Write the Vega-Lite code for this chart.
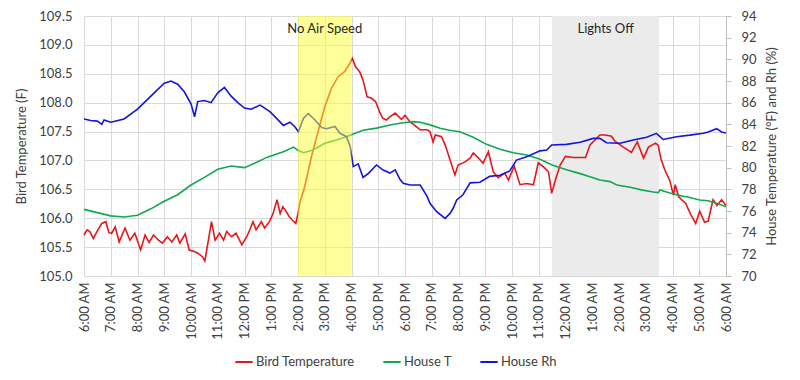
{
  "$schema": "https://vega.github.io/schema/vega-lite/v6.json",
  "width": 642,
  "height": 260,
  "autosize": {"type": "none"},
  "padding": {"left": 84, "top": 16, "right": 74, "bottom": 104},
  "background": "white",
  "config": {
    "font": "Lato",
    "view": {"stroke": null},
    "axis": {"labelFont": "Lato", "titleFont": "Lato", "labelColor": "#404040", "titleColor": "#404040", "labelFontSize": 13, "titleFontSize": 13, "titleFontWeight": "normal", "gridColor": "#d9d9d9", "domainColor": "#bfbfbf", "tickColor": "#bfbfbf"},
    "legend": {"labelFont": "Lato", "labelFontSize": 13, "labelColor": "#404040"}
  },
  "datasets": {
    "bands": [
      {"a": "2024-01-01T14:00:00", "b": "2024-01-01T16:00:00", "k": "No Air Speed"},
      {"a": "2024-01-01T23:30:00", "b": "2024-01-02T03:30:00", "k": "Lights Off"}
    ],
    "notes": [
      {"t": "2024-01-01T15:00:00", "v": 109.28, "label": "No Air Speed"},
      {"t": "2024-01-02T01:30:00", "v": 109.28, "label": "Lights Off"}
    ],
    "bird": [
      {"t": "2024-01-01T06:00:00", "s": "Bird Temperature", "v": 105.71},
      {"t": "2024-01-01T06:07:00", "s": "Bird Temperature", "v": 105.8},
      {"t": "2024-01-01T06:13:00", "s": "Bird Temperature", "v": 105.77},
      {"t": "2024-01-01T06:21:00", "s": "Bird Temperature", "v": 105.65},
      {"t": "2024-01-01T06:30:00", "s": "Bird Temperature", "v": 105.78},
      {"t": "2024-01-01T06:40:00", "s": "Bird Temperature", "v": 105.91},
      {"t": "2024-01-01T06:49:00", "s": "Bird Temperature", "v": 105.94},
      {"t": "2024-01-01T06:56:00", "s": "Bird Temperature", "v": 105.75},
      {"t": "2024-01-01T07:02:00", "s": "Bird Temperature", "v": 105.74},
      {"t": "2024-01-01T07:10:00", "s": "Bird Temperature", "v": 105.85},
      {"t": "2024-01-01T07:19:00", "s": "Bird Temperature", "v": 105.59},
      {"t": "2024-01-01T07:32:00", "s": "Bird Temperature", "v": 105.83},
      {"t": "2024-01-01T07:43:00", "s": "Bird Temperature", "v": 105.62},
      {"t": "2024-01-01T07:54:00", "s": "Bird Temperature", "v": 105.74},
      {"t": "2024-01-01T08:07:00", "s": "Bird Temperature", "v": 105.45},
      {"t": "2024-01-01T08:17:00", "s": "Bird Temperature", "v": 105.71},
      {"t": "2024-01-01T08:26:00", "s": "Bird Temperature", "v": 105.58},
      {"t": "2024-01-01T08:36:00", "s": "Bird Temperature", "v": 105.71},
      {"t": "2024-01-01T08:47:00", "s": "Bird Temperature", "v": 105.62},
      {"t": "2024-01-01T08:56:00", "s": "Bird Temperature", "v": 105.57},
      {"t": "2024-01-01T09:07:00", "s": "Bird Temperature", "v": 105.68},
      {"t": "2024-01-01T09:17:00", "s": "Bird Temperature", "v": 105.59},
      {"t": "2024-01-01T09:28:00", "s": "Bird Temperature", "v": 105.71},
      {"t": "2024-01-01T09:35:00", "s": "Bird Temperature", "v": 105.57},
      {"t": "2024-01-01T09:47:00", "s": "Bird Temperature", "v": 105.73},
      {"t": "2024-01-01T09:56:00", "s": "Bird Temperature", "v": 105.45},
      {"t": "2024-01-01T10:09:00", "s": "Bird Temperature", "v": 105.42},
      {"t": "2024-01-01T10:16:00", "s": "Bird Temperature", "v": 105.39},
      {"t": "2024-01-01T10:26:00", "s": "Bird Temperature", "v": 105.33},
      {"t": "2024-01-01T10:31:00", "s": "Bird Temperature", "v": 105.26},
      {"t": "2024-01-01T10:39:00", "s": "Bird Temperature", "v": 105.62},
      {"t": "2024-01-01T10:46:00", "s": "Bird Temperature", "v": 105.94},
      {"t": "2024-01-01T10:54:00", "s": "Bird Temperature", "v": 105.62},
      {"t": "2024-01-01T11:04:00", "s": "Bird Temperature", "v": 105.74},
      {"t": "2024-01-01T11:13:00", "s": "Bird Temperature", "v": 105.62},
      {"t": "2024-01-01T11:20:00", "s": "Bird Temperature", "v": 105.77},
      {"t": "2024-01-01T11:31:00", "s": "Bird Temperature", "v": 105.68},
      {"t": "2024-01-01T11:41:00", "s": "Bird Temperature", "v": 105.74},
      {"t": "2024-01-01T11:54:00", "s": "Bird Temperature", "v": 105.54},
      {"t": "2024-01-01T12:05:00", "s": "Bird Temperature", "v": 105.68},
      {"t": "2024-01-01T12:12:00", "s": "Bird Temperature", "v": 105.8},
      {"t": "2024-01-01T12:19:00", "s": "Bird Temperature", "v": 105.94},
      {"t": "2024-01-01T12:26:00", "s": "Bird Temperature", "v": 105.8},
      {"t": "2024-01-01T12:38:00", "s": "Bird Temperature", "v": 105.94},
      {"t": "2024-01-01T12:45:00", "s": "Bird Temperature", "v": 105.83},
      {"t": "2024-01-01T12:56:00", "s": "Bird Temperature", "v": 105.94},
      {"t": "2024-01-01T13:04:00", "s": "Bird Temperature", "v": 106.08},
      {"t": "2024-01-01T13:13:00", "s": "Bird Temperature", "v": 106.32},
      {"t": "2024-01-01T13:20:00", "s": "Bird Temperature", "v": 106.08},
      {"t": "2024-01-01T13:26:00", "s": "Bird Temperature", "v": 106.2},
      {"t": "2024-01-01T13:34:00", "s": "Bird Temperature", "v": 106.11},
      {"t": "2024-01-01T13:40:00", "s": "Bird Temperature", "v": 106.03},
      {"t": "2024-01-01T13:47:00", "s": "Bird Temperature", "v": 105.97},
      {"t": "2024-01-01T13:55:00", "s": "Bird Temperature", "v": 105.91},
      {"t": "2024-01-01T14:00:00", "s": "Bird Temperature", "v": 106.08},
      {"t": "2024-01-01T14:04:00", "s": "Bird Temperature", "v": 106.26},
      {"t": "2024-01-01T14:15:00", "s": "Bird Temperature", "v": 106.55},
      {"t": "2024-01-01T14:30:00", "s": "Bird Temperature", "v": 107.06},
      {"t": "2024-01-01T14:45:00", "s": "Bird Temperature", "v": 107.5},
      {"t": "2024-01-01T15:00:00", "s": "Bird Temperature", "v": 107.93},
      {"t": "2024-01-01T15:15:00", "s": "Bird Temperature", "v": 108.25},
      {"t": "2024-01-01T15:30:00", "s": "Bird Temperature", "v": 108.45},
      {"t": "2024-01-01T15:45:00", "s": "Bird Temperature", "v": 108.54},
      {"t": "2024-01-01T15:56:00", "s": "Bird Temperature", "v": 108.68},
      {"t": "2024-01-01T16:02:00", "s": "Bird Temperature", "v": 108.77},
      {"t": "2024-01-01T16:09:00", "s": "Bird Temperature", "v": 108.62},
      {"t": "2024-01-01T16:18:00", "s": "Bird Temperature", "v": 108.54},
      {"t": "2024-01-01T16:26:00", "s": "Bird Temperature", "v": 108.39},
      {"t": "2024-01-01T16:35:00", "s": "Bird Temperature", "v": 108.1},
      {"t": "2024-01-01T16:44:00", "s": "Bird Temperature", "v": 108.08},
      {"t": "2024-01-01T16:54:00", "s": "Bird Temperature", "v": 108.02},
      {"t": "2024-01-01T17:03:00", "s": "Bird Temperature", "v": 107.84},
      {"t": "2024-01-01T17:10:00", "s": "Bird Temperature", "v": 107.73},
      {"t": "2024-01-01T17:18:00", "s": "Bird Temperature", "v": 107.7},
      {"t": "2024-01-01T17:25:00", "s": "Bird Temperature", "v": 107.75},
      {"t": "2024-01-01T17:38:00", "s": "Bird Temperature", "v": 107.82},
      {"t": "2024-01-01T17:52:00", "s": "Bird Temperature", "v": 107.71},
      {"t": "2024-01-01T18:00:00", "s": "Bird Temperature", "v": 107.78},
      {"t": "2024-01-01T18:11:00", "s": "Bird Temperature", "v": 107.67},
      {"t": "2024-01-01T18:26:00", "s": "Bird Temperature", "v": 107.58},
      {"t": "2024-01-01T18:34:00", "s": "Bird Temperature", "v": 107.53},
      {"t": "2024-01-01T18:49:00", "s": "Bird Temperature", "v": 107.53},
      {"t": "2024-01-01T18:56:00", "s": "Bird Temperature", "v": 107.5},
      {"t": "2024-01-01T19:03:00", "s": "Bird Temperature", "v": 107.32},
      {"t": "2024-01-01T19:08:00", "s": "Bird Temperature", "v": 107.44},
      {"t": "2024-01-01T19:22:00", "s": "Bird Temperature", "v": 107.41},
      {"t": "2024-01-01T19:30:00", "s": "Bird Temperature", "v": 107.27},
      {"t": "2024-01-01T19:41:00", "s": "Bird Temperature", "v": 107.01},
      {"t": "2024-01-01T19:52:00", "s": "Bird Temperature", "v": 106.75},
      {"t": "2024-01-01T19:59:00", "s": "Bird Temperature", "v": 106.92},
      {"t": "2024-01-01T20:14:00", "s": "Bird Temperature", "v": 106.97},
      {"t": "2024-01-01T20:26:00", "s": "Bird Temperature", "v": 107.04},
      {"t": "2024-01-01T20:33:00", "s": "Bird Temperature", "v": 107.13},
      {"t": "2024-01-01T20:44:00", "s": "Bird Temperature", "v": 107.05},
      {"t": "2024-01-01T20:55:00", "s": "Bird Temperature", "v": 106.95},
      {"t": "2024-01-01T21:07:00", "s": "Bird Temperature", "v": 107.15},
      {"t": "2024-01-01T21:18:00", "s": "Bird Temperature", "v": 106.8},
      {"t": "2024-01-01T21:29:00", "s": "Bird Temperature", "v": 106.7},
      {"t": "2024-01-01T21:44:00", "s": "Bird Temperature", "v": 106.78},
      {"t": "2024-01-01T21:52:00", "s": "Bird Temperature", "v": 106.66},
      {"t": "2024-01-01T22:05:00", "s": "Bird Temperature", "v": 106.9},
      {"t": "2024-01-01T22:18:00", "s": "Bird Temperature", "v": 106.58},
      {"t": "2024-01-01T22:33:00", "s": "Bird Temperature", "v": 106.6},
      {"t": "2024-01-01T22:48:00", "s": "Bird Temperature", "v": 106.58},
      {"t": "2024-01-01T22:59:00", "s": "Bird Temperature", "v": 106.96},
      {"t": "2024-01-01T23:12:00", "s": "Bird Temperature", "v": 106.88},
      {"t": "2024-01-01T23:22:00", "s": "Bird Temperature", "v": 106.8},
      {"t": "2024-01-01T23:29:00", "s": "Bird Temperature", "v": 106.43},
      {"t": "2024-01-01T23:38:00", "s": "Bird Temperature", "v": 106.68},
      {"t": "2024-01-01T23:48:00", "s": "Bird Temperature", "v": 106.92},
      {"t": "2024-01-02T00:00:00", "s": "Bird Temperature", "v": 107.07},
      {"t": "2024-01-02T00:18:00", "s": "Bird Temperature", "v": 107.05},
      {"t": "2024-01-02T00:33:00", "s": "Bird Temperature", "v": 107.05},
      {"t": "2024-01-02T00:45:00", "s": "Bird Temperature", "v": 107.05},
      {"t": "2024-01-02T00:55:00", "s": "Bird Temperature", "v": 107.27},
      {"t": "2024-01-02T01:17:00", "s": "Bird Temperature", "v": 107.44},
      {"t": "2024-01-02T01:30:00", "s": "Bird Temperature", "v": 107.44},
      {"t": "2024-01-02T01:43:00", "s": "Bird Temperature", "v": 107.42},
      {"t": "2024-01-02T01:50:00", "s": "Bird Temperature", "v": 107.34},
      {"t": "2024-01-02T02:08:00", "s": "Bird Temperature", "v": 107.24},
      {"t": "2024-01-02T02:28:00", "s": "Bird Temperature", "v": 107.14},
      {"t": "2024-01-02T02:41:00", "s": "Bird Temperature", "v": 107.32},
      {"t": "2024-01-02T02:55:00", "s": "Bird Temperature", "v": 107.04},
      {"t": "2024-01-02T03:06:00", "s": "Bird Temperature", "v": 107.23},
      {"t": "2024-01-02T03:22:00", "s": "Bird Temperature", "v": 107.3},
      {"t": "2024-01-02T03:28:00", "s": "Bird Temperature", "v": 107.26},
      {"t": "2024-01-02T03:34:00", "s": "Bird Temperature", "v": 107.03},
      {"t": "2024-01-02T03:43:00", "s": "Bird Temperature", "v": 106.83},
      {"t": "2024-01-02T03:54:00", "s": "Bird Temperature", "v": 106.65},
      {"t": "2024-01-02T04:02:00", "s": "Bird Temperature", "v": 106.4},
      {"t": "2024-01-02T04:06:00", "s": "Bird Temperature", "v": 106.58},
      {"t": "2024-01-02T04:14:00", "s": "Bird Temperature", "v": 106.37},
      {"t": "2024-01-02T04:30:00", "s": "Bird Temperature", "v": 106.25},
      {"t": "2024-01-02T04:41:00", "s": "Bird Temperature", "v": 106.06},
      {"t": "2024-01-02T04:52:00", "s": "Bird Temperature", "v": 105.91},
      {"t": "2024-01-02T05:01:00", "s": "Bird Temperature", "v": 106.12},
      {"t": "2024-01-02T05:12:00", "s": "Bird Temperature", "v": 105.93},
      {"t": "2024-01-02T05:20:00", "s": "Bird Temperature", "v": 105.95},
      {"t": "2024-01-02T05:31:00", "s": "Bird Temperature", "v": 106.32},
      {"t": "2024-01-02T05:40:00", "s": "Bird Temperature", "v": 106.22},
      {"t": "2024-01-02T05:50:00", "s": "Bird Temperature", "v": 106.32},
      {"t": "2024-01-02T06:00:00", "s": "Bird Temperature", "v": 106.22}
    ],
    "house": [
      {"t": "2024-01-01T06:00:00", "s": "House T", "v": 76.15},
      {"t": "2024-01-01T06:30:00", "s": "House T", "v": 75.85},
      {"t": "2024-01-01T07:00:00", "s": "House T", "v": 75.55},
      {"t": "2024-01-01T07:30:00", "s": "House T", "v": 75.45},
      {"t": "2024-01-01T08:00:00", "s": "House T", "v": 75.6},
      {"t": "2024-01-01T08:30:00", "s": "House T", "v": 76.2},
      {"t": "2024-01-01T09:00:00", "s": "House T", "v": 76.9},
      {"t": "2024-01-01T09:30:00", "s": "House T", "v": 77.5},
      {"t": "2024-01-01T10:00:00", "s": "House T", "v": 78.4},
      {"t": "2024-01-01T10:30:00", "s": "House T", "v": 79.1},
      {"t": "2024-01-01T11:00:00", "s": "House T", "v": 79.85},
      {"t": "2024-01-01T11:30:00", "s": "House T", "v": 80.15},
      {"t": "2024-01-01T12:00:00", "s": "House T", "v": 80.0},
      {"t": "2024-01-01T12:30:00", "s": "House T", "v": 80.55},
      {"t": "2024-01-01T12:50:00", "s": "House T", "v": 80.95},
      {"t": "2024-01-01T13:27:00", "s": "House T", "v": 81.47},
      {"t": "2024-01-01T13:50:00", "s": "House T", "v": 81.9},
      {"t": "2024-01-01T14:00:00", "s": "House T", "v": 81.6},
      {"t": "2024-01-01T14:12:00", "s": "House T", "v": 81.38},
      {"t": "2024-01-01T14:34:00", "s": "House T", "v": 81.63},
      {"t": "2024-01-01T15:00:00", "s": "House T", "v": 82.25},
      {"t": "2024-01-01T15:26:00", "s": "House T", "v": 82.55},
      {"t": "2024-01-01T15:49:00", "s": "House T", "v": 82.86},
      {"t": "2024-01-01T16:04:00", "s": "House T", "v": 83.1},
      {"t": "2024-01-01T16:26:00", "s": "House T", "v": 83.45},
      {"t": "2024-01-01T16:56:00", "s": "House T", "v": 83.65},
      {"t": "2024-01-01T17:26:00", "s": "House T", "v": 83.94},
      {"t": "2024-01-01T17:56:00", "s": "House T", "v": 84.15},
      {"t": "2024-01-01T18:20:00", "s": "House T", "v": 84.25},
      {"t": "2024-01-01T18:34:00", "s": "House T", "v": 84.2},
      {"t": "2024-01-01T18:56:00", "s": "House T", "v": 83.95},
      {"t": "2024-01-01T19:19:00", "s": "House T", "v": 83.63},
      {"t": "2024-01-01T19:40:00", "s": "House T", "v": 83.45},
      {"t": "2024-01-01T20:03:00", "s": "House T", "v": 83.32},
      {"t": "2024-01-01T20:33:00", "s": "House T", "v": 82.8},
      {"t": "2024-01-01T21:03:00", "s": "House T", "v": 82.15},
      {"t": "2024-01-01T21:33:00", "s": "House T", "v": 81.7},
      {"t": "2024-01-01T22:03:00", "s": "House T", "v": 81.38},
      {"t": "2024-01-01T22:33:00", "s": "House T", "v": 81.17},
      {"t": "2024-01-01T23:03:00", "s": "House T", "v": 80.78},
      {"t": "2024-01-01T23:30:00", "s": "House T", "v": 80.25},
      {"t": "2024-01-02T00:02:00", "s": "House T", "v": 79.8},
      {"t": "2024-01-02T00:33:00", "s": "House T", "v": 79.45},
      {"t": "2024-01-02T00:55:00", "s": "House T", "v": 79.17},
      {"t": "2024-01-02T01:17:00", "s": "House T", "v": 78.86},
      {"t": "2024-01-02T01:40:00", "s": "House T", "v": 78.71},
      {"t": "2024-01-02T01:55:00", "s": "House T", "v": 78.4},
      {"t": "2024-01-02T02:25:00", "s": "House T", "v": 78.19},
      {"t": "2024-01-02T02:50:00", "s": "House T", "v": 77.95},
      {"t": "2024-01-02T03:17:00", "s": "House T", "v": 77.75},
      {"t": "2024-01-02T03:28:00", "s": "House T", "v": 77.7},
      {"t": "2024-01-02T03:32:00", "s": "House T", "v": 77.95},
      {"t": "2024-01-02T03:54:00", "s": "House T", "v": 77.67},
      {"t": "2024-01-02T04:24:00", "s": "House T", "v": 77.35},
      {"t": "2024-01-02T04:32:00", "s": "House T", "v": 77.32},
      {"t": "2024-01-02T05:01:00", "s": "House T", "v": 77.02},
      {"t": "2024-01-02T05:20:00", "s": "House T", "v": 76.95},
      {"t": "2024-01-02T05:39:00", "s": "House T", "v": 76.71},
      {"t": "2024-01-02T06:00:00", "s": "House T", "v": 76.4},
      {"t": "2024-01-01T06:00:00", "s": "House Rh", "v": 84.5},
      {"t": "2024-01-01T06:15:00", "s": "House Rh", "v": 84.35},
      {"t": "2024-01-01T06:30:00", "s": "House Rh", "v": 84.3},
      {"t": "2024-01-01T06:40:00", "s": "House Rh", "v": 84.0},
      {"t": "2024-01-01T06:45:00", "s": "House Rh", "v": 84.4},
      {"t": "2024-01-01T07:00:00", "s": "House Rh", "v": 84.2},
      {"t": "2024-01-01T07:30:00", "s": "House Rh", "v": 84.5},
      {"t": "2024-01-01T08:00:00", "s": "House Rh", "v": 85.4},
      {"t": "2024-01-01T08:30:00", "s": "House Rh", "v": 86.6},
      {"t": "2024-01-01T09:00:00", "s": "House Rh", "v": 87.8},
      {"t": "2024-01-01T09:15:00", "s": "House Rh", "v": 88.0},
      {"t": "2024-01-01T09:30:00", "s": "House Rh", "v": 87.7},
      {"t": "2024-01-01T09:45:00", "s": "House Rh", "v": 87.0},
      {"t": "2024-01-01T10:00:00", "s": "House Rh", "v": 85.9},
      {"t": "2024-01-01T10:08:00", "s": "House Rh", "v": 84.7},
      {"t": "2024-01-01T10:15:00", "s": "House Rh", "v": 86.1},
      {"t": "2024-01-01T10:30:00", "s": "House Rh", "v": 86.2},
      {"t": "2024-01-01T10:45:00", "s": "House Rh", "v": 86.0},
      {"t": "2024-01-01T11:00:00", "s": "House Rh", "v": 86.9},
      {"t": "2024-01-01T11:15:00", "s": "House Rh", "v": 87.4},
      {"t": "2024-01-01T11:30:00", "s": "House Rh", "v": 86.6},
      {"t": "2024-01-01T11:45:00", "s": "House Rh", "v": 86.0},
      {"t": "2024-01-01T12:00:00", "s": "House Rh", "v": 85.5},
      {"t": "2024-01-01T12:15:00", "s": "House Rh", "v": 85.4},
      {"t": "2024-01-01T12:35:00", "s": "House Rh", "v": 85.78},
      {"t": "2024-01-01T12:57:00", "s": "House Rh", "v": 85.17},
      {"t": "2024-01-01T13:12:00", "s": "House Rh", "v": 84.55},
      {"t": "2024-01-01T13:27:00", "s": "House Rh", "v": 83.9},
      {"t": "2024-01-01T13:42:00", "s": "House Rh", "v": 84.2},
      {"t": "2024-01-01T13:53:00", "s": "House Rh", "v": 83.78},
      {"t": "2024-01-01T14:01:00", "s": "House Rh", "v": 83.32},
      {"t": "2024-01-01T14:12:00", "s": "House Rh", "v": 84.55},
      {"t": "2024-01-01T14:23:00", "s": "House Rh", "v": 85.0},
      {"t": "2024-01-01T14:38:00", "s": "House Rh", "v": 84.4},
      {"t": "2024-01-01T14:53:00", "s": "House Rh", "v": 83.7},
      {"t": "2024-01-01T15:04:00", "s": "House Rh", "v": 83.6},
      {"t": "2024-01-01T15:23:00", "s": "House Rh", "v": 83.8},
      {"t": "2024-01-01T15:34:00", "s": "House Rh", "v": 83.17},
      {"t": "2024-01-01T15:49:00", "s": "House Rh", "v": 82.86},
      {"t": "2024-01-01T15:57:00", "s": "House Rh", "v": 81.94},
      {"t": "2024-01-01T16:04:00", "s": "House Rh", "v": 80.1},
      {"t": "2024-01-01T16:15:00", "s": "House Rh", "v": 80.35},
      {"t": "2024-01-01T16:26:00", "s": "House Rh", "v": 79.1},
      {"t": "2024-01-01T16:38:00", "s": "House Rh", "v": 79.48},
      {"t": "2024-01-01T16:56:00", "s": "House Rh", "v": 80.25},
      {"t": "2024-01-01T17:11:00", "s": "House Rh", "v": 79.78},
      {"t": "2024-01-01T17:26:00", "s": "House Rh", "v": 79.5},
      {"t": "2024-01-01T17:38:00", "s": "House Rh", "v": 79.8},
      {"t": "2024-01-01T17:49:00", "s": "House Rh", "v": 78.9},
      {"t": "2024-01-01T17:56:00", "s": "House Rh", "v": 78.55},
      {"t": "2024-01-01T18:11:00", "s": "House Rh", "v": 78.4},
      {"t": "2024-01-01T18:34:00", "s": "House Rh", "v": 78.4},
      {"t": "2024-01-01T18:49:00", "s": "House Rh", "v": 77.4},
      {"t": "2024-01-01T18:56:00", "s": "House Rh", "v": 76.71},
      {"t": "2024-01-01T19:11:00", "s": "House Rh", "v": 75.94},
      {"t": "2024-01-01T19:30:00", "s": "House Rh", "v": 75.32},
      {"t": "2024-01-01T19:41:00", "s": "House Rh", "v": 75.78},
      {"t": "2024-01-01T19:48:00", "s": "House Rh", "v": 76.25},
      {"t": "2024-01-01T19:56:00", "s": "House Rh", "v": 77.02},
      {"t": "2024-01-01T20:10:00", "s": "House Rh", "v": 77.5},
      {"t": "2024-01-01T20:26:00", "s": "House Rh", "v": 78.6},
      {"t": "2024-01-01T20:48:00", "s": "House Rh", "v": 78.65},
      {"t": "2024-01-01T21:10:00", "s": "House Rh", "v": 79.2},
      {"t": "2024-01-01T21:33:00", "s": "House Rh", "v": 79.3},
      {"t": "2024-01-01T21:55:00", "s": "House Rh", "v": 79.7},
      {"t": "2024-01-01T22:10:00", "s": "House Rh", "v": 80.7},
      {"t": "2024-01-01T22:33:00", "s": "House Rh", "v": 81.01},
      {"t": "2024-01-01T23:03:00", "s": "House Rh", "v": 81.55},
      {"t": "2024-01-01T23:18:00", "s": "House Rh", "v": 81.63},
      {"t": "2024-01-01T23:29:00", "s": "House Rh", "v": 82.09},
      {"t": "2024-01-02T00:02:00", "s": "House Rh", "v": 82.15},
      {"t": "2024-01-02T00:33:00", "s": "House Rh", "v": 82.35},
      {"t": "2024-01-02T01:02:00", "s": "House Rh", "v": 82.7},
      {"t": "2024-01-02T01:17:00", "s": "House Rh", "v": 82.7},
      {"t": "2024-01-02T01:32:00", "s": "House Rh", "v": 82.3},
      {"t": "2024-01-02T02:02:00", "s": "House Rh", "v": 82.25},
      {"t": "2024-01-02T02:32:00", "s": "House Rh", "v": 82.55},
      {"t": "2024-01-02T03:02:00", "s": "House Rh", "v": 82.8},
      {"t": "2024-01-02T03:24:00", "s": "House Rh", "v": 83.17},
      {"t": "2024-01-02T03:39:00", "s": "House Rh", "v": 82.6},
      {"t": "2024-01-02T04:09:00", "s": "House Rh", "v": 82.86},
      {"t": "2024-01-02T04:39:00", "s": "House Rh", "v": 83.0},
      {"t": "2024-01-02T05:09:00", "s": "House Rh", "v": 83.17},
      {"t": "2024-01-02T05:20:00", "s": "House Rh", "v": 83.3},
      {"t": "2024-01-02T05:39:00", "s": "House Rh", "v": 83.6},
      {"t": "2024-01-02T05:50:00", "s": "House Rh", "v": 83.3},
      {"t": "2024-01-02T06:00:00", "s": "House Rh", "v": 83.2}
    ]
  },
  "layer": [
    {
      "data": {"name": "bands"},
      "transform": [{"filter": "datum.k == 'Lights Off'"}],
      "mark": {"type": "rect", "fill": "#ebebeb"},
      "encoding": {"x": {"field": "a", "type": "temporal"}, "x2": {"field": "b"}}
    },
    {
      "data": {"name": "bird"},
      "mark": {"type": "line", "strokeWidth": 1.6},
      "encoding": {
        "x": {"field": "t", "type": "temporal", "scale": {"nice": false},
          "axis": {"title": null, "format": "%-I:%M %p", "labelAngle": -90, "labelFontSize": 13, "ticks": false, "domain": true, "domainColor": "#d9d9d9", "labelPadding": 6, "labelOverlap": false, "grid": true}},
        "y": {"field": "v", "type": "quantitative", "scale": {"domain": [105, 109.5], "nice": false, "zero": false},
          "axis": {"orient": "left", "title": "Bird Temperature (F)", "values": [105, 105.5, 106, 106.5, 107, 107.5, 108, 108.5, 109, 109.5], "format": ".1f", "ticks": false, "domain": false, "grid": true, "labelPadding": 12, "titlePadding": 10}},
        "color": {"field": "s", "type": "nominal", "scale": {"domain": ["Bird Temperature", "House T", "House Rh"], "range": ["#e8161b", "#12a84f", "#1414de"]},
          "legend": {"orient": "none", "legendX": 150, "legendY": 336, "direction": "horizontal", "title": null, "symbolType": "stroke", "symbolStrokeWidth": 2, "symbolSize": 300, "columnPadding": 24, "labelOffset": 2}}
      }
    },
    {
      "data": {"name": "house"},
      "mark": {"type": "line", "strokeWidth": 1.6},
      "encoding": {
        "x": {"field": "t", "type": "temporal"},
        "y": {"field": "v", "type": "quantitative", "scale": {"domain": [70, 94], "nice": false, "zero": false},
          "axis": {"orient": "right", "title": "House Temperature (°F) and Rh (%)", "titleAngle": 270, "titleBaseline": "bottom", "values": [70, 72, 74, 76, 78, 80, 82, 84, 86, 88, 90, 92, 94], "ticks": true, "tickSize": 5, "domain": true, "grid": false, "labelPadding": 10, "titlePadding": 22}},
        "color": {"field": "s", "type": "nominal"}
      }
    },
    {
      "data": {"name": "bands"},
      "transform": [{"filter": "datum.k == 'No Air Speed'"}],
      "mark": {"type": "rect", "fill": "#ffff33", "opacity": 0.5},
      "encoding": {"x": {"field": "a", "type": "temporal"}, "x2": {"field": "b"}}
    },
    {
      "data": {"name": "notes"},
      "mark": {"type": "text", "fontSize": 13, "color": "#262626", "baseline": "middle", "align": "center"},
      "encoding": {
        "x": {"field": "t", "type": "temporal"},
        "y": {"field": "v", "type": "quantitative", "scale": {"domain": [105, 109.5], "nice": false, "zero": false}, "axis": null},
        "text": {"field": "label"}
      }
    }
  ],
  "resolve": {"scale": {"y": "independent"}}
}
